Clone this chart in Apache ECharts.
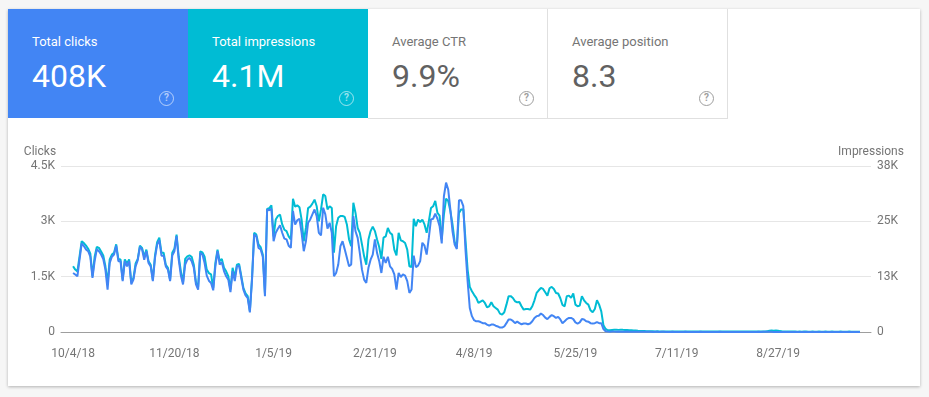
<!DOCTYPE html>
<html>
<head>
<meta charset="utf-8">
<title>Search performance</title>
<script src="https://cdn.jsdelivr.net/npm/echarts@6/dist/echarts.min.js"></script>
<style>
  html, body { margin: 0; padding: 0; }
  body { width: 929px; height: 397px; background: #f6f6f6; font-family: Roboto, 'Noto Sans', sans-serif; overflow: hidden; }
  .card { position: absolute; left: 8px; top: 9px; width: 912px; height: 377px; background: #fff; box-shadow: 0 1px 3px rgba(0, 0, 0, .28); }
  .tile { position: absolute; top: 0; width: 180px; height: 109px; box-sizing: border-box; }
  .tile.clicks { left: 0; background: #4285f4; color: #fff; }
  .tile.impr { left: 180px; background: #00bcd4; color: #fff; }
  .tile.plain { height: 110px; border-right: 1px solid #e0e0e0; border-bottom: 1px solid #e0e0e0; color: #616161; }
  .tile.ctr { left: 360px; }
  .tile.pos { left: 540px; }
  .tile .label { position: absolute; left: 24px; top: 25px; font-size: 13px; line-height: 16px; white-space: nowrap; }
  .tile.plain .label { color: #757575; }
  .tile .value { position: absolute; left: 24px; top: 48px; font-size: 32px; line-height: 38px; white-space: nowrap; }
  .tile .help { position: absolute; left: 151px; top: 82px; width: 15px; height: 15px; box-sizing: border-box; border: 1.5px solid; border-radius: 50%; font-size: 10px; line-height: 12px; text-align: center; font-weight: 700; }
  .tile.clicks .help, .tile.impr .help { color: rgba(255, 255, 255, .6); border-color: rgba(255, 255, 255, .6); }
  .tile.plain .help { color: #9e9e9e; border-color: #9e9e9e; }
  #chart { position: absolute; left: 0; top: 109px; width: 912px; height: 268px; }
</style>
</head>
<body>
<div class="card">
  <div class="tile clicks"><div class="label">Total clicks</div><div class="value">408K</div><div class="help">?</div></div>
  <div class="tile impr"><div class="label">Total impressions</div><div class="value">4.1M</div><div class="help">?</div></div>
  <div class="tile plain ctr"><div class="label">Average CTR</div><div class="value">9.9%</div><div class="help">?</div></div>
  <div class="tile plain pos"><div class="label">Average position</div><div class="value">8.3</div><div class="help">?</div></div>
  <div id="chart"></div>
</div>
<script>
// first day of the daily series
const firstDay = '10/4/18';

// date labels under the chart
const xTickLabels = ['10/4/18', '11/20/18', '1/5/19', '2/21/19', '4/8/19', '5/25/19', '7/11/19', '8/27/19'];

// y axis ticks
const clickTicks = [0, 1500, 3000, 4500];
const impressionTicks = [0, 12500, 25000, 37500];

// daily clicks, 10/4/18 .. 10/4/19
const clicks = [
  1600, 1560, 1510, 1960, 2400, 2330, 2240, 2190, 2040, 1470,
  1920, 2240, 2190, 2100, 1980, 1690, 1150, 1870, 2040, 2100,
  2340, 1920, 1920, 1380, 1920, 1780, 1920, 1290, 1420, 1780,
  1950, 2310, 2240, 1960, 2190, 1870, 1780, 1380, 2010, 2370,
  2490, 2070, 2070, 1780, 1690, 1380, 2070, 2190, 2600, 1960,
  1530, 1290, 1830, 1960, 2010, 1920, 1740, 1290, 1150, 2140,
  2100, 1870, 1530, 1390, 1330, 1130, 1780, 2190, 1830, 1890,
  1650, 1510, 1420, 1080, 1650, 1380, 1780, 1800, 1470, 1150,
  990, 920, 530, 1420, 2640, 2600, 2280, 2240, 2040, 970,
  3320, 3300, 3340, 2460, 2690, 2800, 2890, 2690, 2530, 2510,
  2340, 2280, 3280, 2910, 3030, 3070, 2690, 2190, 2460, 2960,
  3050, 3190, 3320, 3140, 2690, 2620, 3370, 3190, 2800, 2960,
  2690, 1510, 1600, 1830, 2330, 2460, 2240, 2010, 1780, 1830,
  3140, 2730, 2550, 2140, 1690, 1420, 1330, 1740, 1960, 2100,
  2510, 2140, 1920, 1600, 2040, 1870, 2040, 1780, 1710, 1560,
  1150, 1600, 1490, 1560, 1530, 1380, 1060, 1150, 2070, 1760,
  1800, 1920, 2420, 2340, 2100, 2550, 3050, 3070, 3210, 3070,
  2870, 2400, 3680, 4050, 3860, 3320, 2730, 2370, 2250, 3570,
  3570, 3410, 2240, 1380, 650, 430, 320, 290, 290, 270,
  240, 240, 200, 170, 200, 200, 170, 150, 120, 120,
  150, 240, 340, 340, 300, 240, 280, 240, 210, 230,
  230, 210, 230, 290, 380, 430, 440, 500, 460, 390,
  350, 410, 460, 430, 380, 410, 340, 240, 290, 350,
  380, 380, 350, 260, 230, 260, 350, 340, 290, 280,
  240, 230, 240, 270, 240, 240, 80,
  20, 12, 10, 14, 11, 9, 12, 10, 8, 9,
  11, 7, 6, 8, 7, 5, 6, 5, 4, 6,
  5, 4, 3, 5, 4, 3, 4, 5, 3, 2,
  3, 4, 3, 2, 3, 3, 2, 4, 3, 2,
  3, 2, 2, 3, 4, 3, 2, 2, 3, 2,
  3, 2, 3, 4, 2, 2, 3, 2, 2, 3,
  2, 3, 2, 2, 3, 2, 3, 2, 2, 2,
  3, 4, 3, 5, 4, 6, 5, 4, 3, 3,
  2, 3, 2, 2, 3, 2, 2, 3, 2, 2,
  3, 2, 2, 3, 2, 2, 2, 3, 2, 2,
  3, 2, 2, 2, 3, 2, 2, 3, 2, 2,
  2, 3, 2, 2, 2, 3, 2, 2, 1
];

// daily impressions, same days
const impressions = [
  14850, 14100, 13700, 17100, 20500, 20100, 19500, 18800, 17700, 12600,
  17000, 19200, 19000, 18200, 17300, 14850, 11100, 16400, 17500, 17900,
  19800, 16500, 16400, 11800, 16400, 15500, 16400, 11200, 12200, 15500,
  16500, 19500, 19000, 17000, 18600, 16000, 15200, 11800, 17300, 20300,
  21300, 17900, 17900, 15200, 14500, 11800, 17900, 18800, 22000, 17000,
  13700, 11200, 16500, 17100, 17300, 17000, 15200, 11200, 10200, 18200,
  18000, 17000, 14100, 13300, 13000, 9950, 15600, 18600, 16000, 16500,
  14500, 13700, 12600, 9600, 14500, 12400, 15200, 15400, 12700, 9950,
  8700, 8100, 4700, 12200, 22400, 22000, 19800, 19200, 17500, 8700,
  27800, 28000, 28600, 21600, 25400, 26200, 26500, 24300, 23100, 22800,
  21600, 20900, 30100, 28300, 28600, 28200, 25400, 20500, 23500, 28000,
  28300, 29000, 29900, 28400, 25000, 27700, 31100, 30700, 27700, 28400,
  28000, 17900, 23900, 25800, 26200, 26200, 26000, 24300, 20900, 19400,
  29200, 26900, 23500, 22400, 19800, 17100, 15200, 20900, 22800, 23800,
  22800, 20900, 19200, 16500, 21300, 21600, 23500, 22400, 22000, 18600,
  17300, 22400, 20700, 20500, 20100, 18600, 14850, 14700, 25600, 23900,
  25400, 24800, 25400, 24300, 22400, 25000, 28000, 28400, 29600, 26900,
  26300, 21000, 26500, 30100, 29600, 27300, 24300, 20300, 19200, 26900,
  27700, 27700, 20900, 14100, 10200, 9200, 8400, 7700, 6560, 6860,
  7160, 6560, 5580, 5810, 6710, 5810, 5430, 5050, 4150, 3920,
  4450, 6180, 8100, 8100, 7700, 6940, 6710, 6790, 5810, 5050,
  5200, 5200, 5050, 5810, 7160, 8820, 9430, 9950, 9730, 8970,
  8220, 9880, 10200, 9730, 8820, 8700, 7620, 6110, 5810, 8100,
  8220, 7700, 8700, 6180, 5810, 5960, 8100, 7160, 6560, 6180,
  4900, 4450, 5200, 7160, 6180, 4670, 1500,
  700, 380, 420, 470, 520, 500, 480, 530, 490, 460,
  440, 410, 390, 360, 320, 280, 250, 220, 200, 180,
  170, 160, 150, 140, 150, 130, 140, 120, 130, 120,
  110, 120, 110, 100, 110, 120, 100, 110, 100, 90,
  100, 110, 100, 90, 100, 110, 100, 90, 100, 90,
  100, 90, 100, 110, 100, 90, 100, 90, 90, 100,
  90, 100, 90, 90, 100, 90, 100, 90, 90, 90,
  90, 90, 100, 90, 90, 180, 260, 320, 300, 340,
  280, 200, 140, 110, 100, 90, 90, 100, 90, 80,
  90, 80, 90, 90, 80, 80, 90, 80, 80, 90,
  80, 80, 90, 80, 80, 90, 80, 80, 80, 90,
  80, 80, 80, 90, 80, 80, 70, 80, 60
];

const DAY = 86400000;
const BLUE = '#4285f4';
const TEAL = '#00bcd4';
const LABEL = '#757575';

function parseMDY(s) {
  const [m, d, y] = s.split('/').map(Number);
  return Date.UTC(2000 + y, m - 1, d);
}
const start = parseMDY(firstDay);

// day index <-> label text
function dayOf(s) {
  return Math.round((parseMDY(s) - start) / DAY);
}
function labelOf(dayIndex) {
  const dt = new Date(start + Math.round(dayIndex) * DAY);
  return (dt.getUTCMonth() + 1) + '/' + dt.getUTCDate() + '/' + (dt.getUTCFullYear() % 100);
}
function kFormat(v, round) {
  if (v === 0) return '0';
  const k = v / 1000;
  return (round ? Math.round(k) : k) + 'K';
}

const chart = echarts.init(document.getElementById('chart'), null, { renderer: 'canvas' });

const yAxisBase = {
  type: 'value',
  nameLocation: 'end',
  nameGap: 8,
  axisLine: { show: false },
  axisTick: { show: false },
  axisLabel: { color: LABEL, fontSize: 12, fontFamily: 'Roboto', margin: 6 }
};

chart.setOption({
  animation: false,
  grid: { left: 53, right: 49, top: 48, bottom: 54, containLabel: false },
  xAxis: {
    type: 'value',
    min: -5.6,
    max: 370.1,
    axisLine: { show: true, onZero: false, lineStyle: { color: '#9e9e9e', width: 1 } },
    axisTick: { show: false },
    splitLine: { show: false },
    axisLabel: {
      customValues: xTickLabels.map(dayOf),
      formatter: v => labelOf(v),
      color: LABEL,
      fontSize: 12,
      fontFamily: 'Roboto',
      margin: 16,
      hideOverlap: false
    }
  },
  yAxis: [
    Object.assign({}, yAxisBase, {
      name: 'Clicks',
      min: clickTicks[0],
      max: clickTicks[clickTicks.length - 1],
      interval: clickTicks[1] - clickTicks[0],
      nameTextStyle: { color: LABEL, fontSize: 12, fontFamily: 'Roboto', align: 'right', padding: [0, 17, 0, 0] },
      splitLine: { show: true, lineStyle: { color: '#e6e6e6', width: 1 } },
      axisLabel: Object.assign({}, yAxisBase.axisLabel, { formatter: v => kFormat(v, false) })
    }),
    Object.assign({}, yAxisBase, {
      name: 'Impressions',
      position: 'right',
      min: impressionTicks[0],
      max: impressionTicks[impressionTicks.length - 1],
      interval: impressionTicks[1] - impressionTicks[0],
      nameTextStyle: { color: LABEL, fontSize: 12, fontFamily: 'Roboto', align: 'center' },
      splitLine: { show: false },
      axisLabel: Object.assign({}, yAxisBase.axisLabel, { formatter: v => kFormat(v, true) })
    })
  ],
  series: [
    {
      name: 'Impressions',
      type: 'line',
      yAxisIndex: 1,
      showSymbol: false,
      symbol: 'none',
      lineStyle: { color: TEAL, width: 2 },
      itemStyle: { color: TEAL },
      data: impressions.map((v, i) => [i, v])
    },
    {
      name: 'Clicks',
      type: 'line',
      yAxisIndex: 0,
      showSymbol: false,
      symbol: 'none',
      lineStyle: { color: BLUE, width: 2 },
      itemStyle: { color: BLUE },
      data: clicks.map((v, i) => [i, v])
    }
  ]
});
</script>
</body>
</html>
